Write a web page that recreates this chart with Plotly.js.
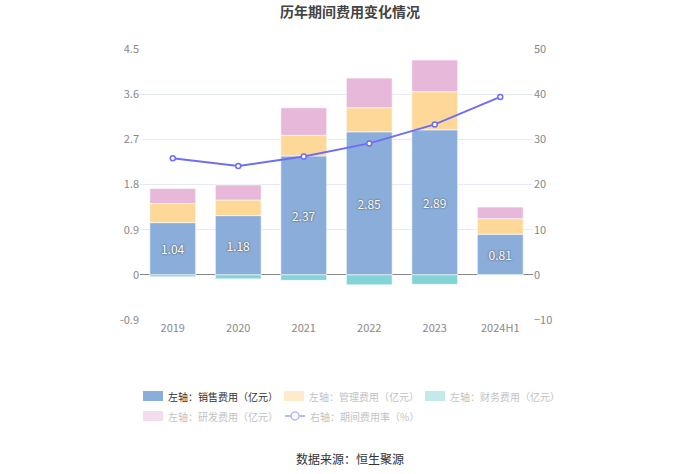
<!DOCTYPE html>
<html><head><meta charset="utf-8">
<script src="https://cdn.plot.ly/plotly-3.0.1.min.js"></script>
<style>body{margin:0;background:#fff}#c{width:700px;height:474px}</style>
</head><body><div id="c"></div>
<script>
const categories = ["2019","2020","2021","2022","2023","2024H1"];
const salesCost = [1.04, 1.18, 2.37, 2.85, 2.89, 0.81];
const mgmtCost = [0.38, 0.31, 0.41, 0.48, 0.76, 0.31];
const financeCost = [-0.04, -0.08, -0.11, -0.20, -0.19, -0.01];
const rdCost = [0.30, 0.30, 0.55, 0.59, 0.63, 0.23];
const expenseRate = [25.8, 24.1, 26.2, 29.1, 33.3, 39.4];
const leftTicks = [-0.9, 0, 0.9, 1.8, 2.7, 3.6, 4.5];
const leftTickText = ["-0.9","0","0.9","1.8","2.7","3.6","4.5"];
const rightTicks = [-10, 0, 10, 20, 30, 40, 50];
const legendNames = ["左轴：销售费用（亿元）","左轴：管理费用（亿元）","左轴：财务费用（亿元）","左轴：研发费用（亿元）","右轴：期间费用率（%）"];

const FONT = "'Noto Sans CJK SC', 'Noto Sans', sans-serif";
const C_SALES = "#8badd9", C_MGMT = "#fed898", C_FIN = "#82d4d6", C_RD = "#e7b8da", C_LINE = "#6e6ef4";

const barCommon = {type:"bar", x:categories, width:0.7, hoverinfo:"y"};
const edge = {color:"rgba(255,255,255,0.6)", width:1};
const traces = [
  Object.assign({}, barCommon, {y:salesCost, name:legendNames[0], marker:{color:C_SALES, line:edge},
    text:salesCost.map(v=>v.toFixed(2)), textposition:"inside", insidetextanchor:"middle",
    textfont:{color:"#ffffff", size:12, family:FONT, shadow:"0px 0px 2px #333"}}),
  Object.assign({}, barCommon, {y:mgmtCost, name:legendNames[1], marker:{color:C_MGMT, line:edge}, textposition:"none"}),
  Object.assign({}, barCommon, {y:financeCost, name:legendNames[2], marker:{color:C_FIN, line:edge}, textposition:"none"}),
  Object.assign({}, barCommon, {y:rdCost, name:legendNames[3], marker:{color:C_RD, line:edge}, textposition:"none"}),
  {type:"scatter", mode:"lines+markers", x:categories, y:expenseRate, yaxis:"y2", name:legendNames[4],
   line:{color:C_LINE, width:2}, marker:{symbol:"circle", size:5, color:"#ffffff", line:{color:C_LINE, width:1.5}}}
];

// custom legend (paper coords: plot x 140..533, y 320..49)
const px = x => (x - 140) / 393;
const py = y => (320 - y) / 271;
const legendItems = [
  {x:143, y:396, color:C_SALES, textColor:"#333", kind:"rect"},
  {x:284, y:396, color:"#feebcc", textColor:"#c2c2c2", kind:"rect"},
  {x:425, y:396, color:"#c1eaeb", textColor:"#c2c2c2", kind:"rect"},
  {x:143, y:416, color:"#f3dcec", textColor:"#c2c2c2", kind:"rect"},
  {x:285, y:416, color:"#b7b7fa", textColor:"#c2c2c2", kind:"line"}
];
const shapes = [], annotations = [];
legendItems.forEach((it, i) => {
  if (it.kind === "rect") {
    shapes.push({type:"rect", xref:"paper", yref:"paper", x0:px(it.x), x1:px(it.x+20), y0:py(it.y+5), y1:py(it.y-5),
      fillcolor:it.color, line:{width:0}});
  } else {
    shapes.push({type:"line", xref:"paper", yref:"paper", x0:px(it.x), x1:px(it.x+20), y0:py(it.y), y1:py(it.y),
      line:{color:it.color, width:2}});
    shapes.push({type:"circle", xref:"paper", yref:"paper", x0:px(it.x+6), x1:px(it.x+14), y0:py(it.y+4), y1:py(it.y-4),
      fillcolor:"#ffffff", line:{color:it.color, width:1.5}});
  }
  annotations.push({xref:"paper", yref:"paper", x:px(it.x+23), y:py(it.y), xanchor:"left", yanchor:"middle",
    text:legendNames[i], showarrow:false, font:{family:FONT, size:10, color:it.textColor}});
});
annotations.push({xref:"paper", yref:"paper", x:px(350), y:py(458), xanchor:"center", yanchor:"middle",
  text:"数据来源：恒生聚源", showarrow:false, font:{family:FONT, size:12, color:"#333"}});

const layout = {
  width:700, height:474,
  margin:{l:140, r:167, t:49, b:154},
  paper_bgcolor:"#fff", plot_bgcolor:"#fff",
  title:{text:"<b>历年期间费用变化情况</b>", x:0.5, xanchor:"center", y:0.975, yanchor:"middle", font:{family:FONT, size:14, color:"#444"}},
  barmode:"relative",
  showlegend:false,
  font:{family:FONT},
  xaxis:{type:"category", range:[-0.5,5.5], showgrid:false, showline:false, zeroline:false, ticks:"",
    tickfont:{size:11, color:"#888"}, fixedrange:true},
  yaxis:{range:[-0.9,4.5], tickvals:leftTicks, ticktext:leftTickText, showgrid:true, gridcolor:"#e6eaf4", gridwidth:1,
    zeroline:true, zerolinecolor:"#888", zerolinewidth:1, showline:false, ticks:"", ticklen:0,
    tickfont:{size:11, color:"#888"}},
  yaxis2:{overlaying:"y", side:"right", range:[-10,50], tickvals:rightTicks, showgrid:false, zeroline:false, showline:false,
    tickfont:{size:11, color:"#888"}},
  shapes:shapes,
  annotations:annotations
};
Plotly.newPlot("c", traces, layout, {displayModeBar:false, staticPlot:true});
</script></body></html>
